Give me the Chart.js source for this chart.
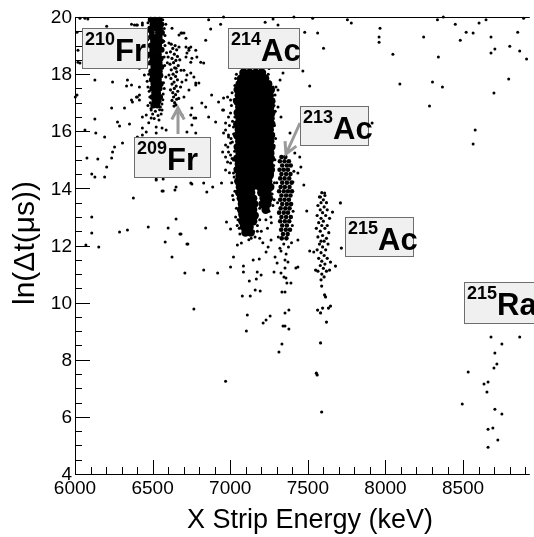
<!DOCTYPE html>
<html>
<head>
<meta charset="utf-8">
<script src="https://cdn.jsdelivr.net/npm/chart.js@4.4.1/dist/chart.umd.min.js"></script>
<style>
  html, body { margin: 0; padding: 0; background: #fff; }
  #plot { display: block; }
</style>
</head>
<body>
<canvas id="plot" width="534" height="537"></canvas>
<script>
// tick labels
var xTickLabels = [6000, 6500, 7000, 7500, 8000, 8500];
var yTickLabels = [4, 6, 8, 10, 12, 14, 16, 18, 20];

// scattered background events [energy keV, ln(dt)]
var bgPoints = [
  [6032,19.96],[6064,19.96],[6083,19.93],[6204,19.68],[6364,19.75],[6396,19.72],[6434,19.72],
  [6013,19.47],[6019,18.84],[6019,18.42],[6032,18.39],[6128,17.79],[6242,17.72],[6338,17.79],
  [6332,17.58],[6364,17.62],[6415,17.55],[6013,17.27],[6002,17.2],[6236,16.81],[6319,16.81],
  [6364,17.09],[6370,17.02],[6402,17.2],[6415,17.09],[6128,16.43],[6274,16.32],[6287,16.18],
  [6351,16.25],[6434,16.11],[6459,15.97],[6064,16.04],[6134,15.94],[6191,15.8],[6255,15.45],
  [6242,15.27],[6306,15.59],[6077,15.06],[6147,15.03],[6236,15.06],[6204,14.75],[6108,14.5],
  [6128,14.4],[6191,14.4],
  [6683,19.44],[6715,19.26],[6746,18.95],[6778,18.84],[6721,18.74],[6746,18.42],[6702,18.14],
  [6766,17.9],[6715,17.79],[6778,17.62],[6734,17.44],[6702,17.2],[6746,16.57],[6778,16.46],
  [6753,16.22],[6721,15.97],[6778,15.94],
  [6434,16.5],[6459,16.57],[6491,16.46],[6523,16.15],[6561,16.11],[6587,16.04],[6523,15.94],
  [6434,15.87],[6402,15.8],[6523,14.33],[6568,14.33],[6568,13.91],[6651,14.05],[6746,14.19],
  [6108,13.0],[6070,12.02],[6108,12.44],[6153,11.95],[6287,12.47],[6338,12.54],[6376,13.66],
  [6472,12.65],[6523,14.29],[6561,13.91],[6644,13.94],[6581,12.12],[6600,12.61],[6651,12.93],
  [6676,12.4],[6625,11.6],[6721,12.05],[6708,11.04],[6766,9.78],
  [6861,19.9],[6874,19.58],[6938,19.75],[6957,20.0],[7225,19.82],[7276,19.93],[7308,19.72],
  [7410,20.0],[7531,19.96],[7480,19.47],[7563,19.44],[7601,18.91],[7468,18.11],[7512,17.58],
  [7340,18.04],[7308,17.44],[6702,19.44],[6715,18.95],[6734,18.91],[6753,18.56],[6829,18.39],
  [6842,19.19],[6746,18.04],[6683,18.14],[6798,17.69],[6880,17.27],[6925,17.02],[6817,16.99],
  [6842,16.85],[6753,16.81],[6957,16.74],[7002,17.09],[6989,16.5],[6861,16.5],[6766,16.46],
  [6906,16.32],[6689,16.57],[6970,16.04],[6989,15.8],[7002,15.59],[6989,15.27],[6970,15.1],
  [7002,14.89],[6970,14.64],[7021,14.54],[6944,14.19],[6829,14.19],[6849,13.87],
  [7914,16.29],
  [7755,19.9],[7780,19.79],[7965,19.61],[7959,19.3],[7959,19.12],[8048,18.7],[8093,17.65],
  [8246,19.3],[8303,17.72],[8284,16.88],[8335,19.9],[8373,20.0],[8341,18.6],[8367,17.55],
  [8450,19.75],[8482,19.19],[8520,19.47],[8565,19.44],[8578,16.04],[8565,15.55],[8603,19.79],
  [8648,19.9],[8680,19.3],[8680,18.74],[8705,18.88],[8699,17.34],[8794,17.83],[8801,18.98],
  [8852,19.47],[8865,18.81],[8909,18.53],[8890,19.96],
  [6753,14.15],[6887,14.05],[6683,12.4],[6727,12.05],[6842,12.61],[6829,11.14],[6919,11.04],
  [6976,12.82],[7002,12.58],[7021,11.6],[7002,11.25],[6970,7.25]
];

// 210Fr band: dense core rows [ln(dt), energies...] and loose edge points
var fr210Rows = [
  [19.9, 6488, 6515, 6545], [19.75, 6500, 6530, 6556], [19.6, 6485, 6520, 6548],
  [19.45, 6495, 6535, 6560], [19.3, 6490, 6518, 6545], [19.15, 6503, 6530, 6555],
  [19.0, 6488, 6515, 6542], [18.85, 6498, 6528, 6558], [18.7, 6485, 6512, 6540],
  [18.55, 6500, 6525, 6552], [18.4, 6490, 6518, 6545], [18.25, 6505, 6532, 6556],
  [18.1, 6492, 6520, 6546], [17.95, 6500, 6528, 6550], [17.8, 6495, 6518, 6540],
  [17.65, 6505, 6530, 6552], [17.5, 6498, 6522, 6545], [17.35, 6510, 6535],
  [17.2, 6500, 6525, 6548], [17.05, 6512, 6538], [16.9, 6505, 6530]
];
var fr210Edge = [
  [6470,19.8],[6575,19.6],[6468,19.2],[6580,19.0],[6472,18.6],[6578,18.3],[6475,18.0],
  [6570,17.7],[6478,17.4],[6568,17.3],[6485,17.0],[6560,16.95],[6490,16.8],[6545,16.75],
  [6518,16.7],[6500,16.6],[6535,16.55],[6565,19.9],[6580,19.35],[6462,18.9],[6590,18.75],
  [6465,17.75],[6585,17.9],[6595,18.4],[6470,16.9],[6555,16.6],[6510,16.45],[6475,16.3],
  [6434,19.79],[6383,19.72],[6402,19.72],[6415,18.21],[6447,17.97],[6396,17.2],[6415,17.27],
  [6491,16.74],[6541,16.39],[6561,16.74],
  [6625,19.61],[6670,19.37],[6689,19.44],[6605,19.09],[6734,18.84],[6715,18.6],
  [6785,18.6],[6810,18.42],[6605,17.97],[6651,18.21],[6721,17.97],[6778,17.69],[6689,17.72],
  [6476,19.5],[6572,19.15],[6466,18.35],[6574,18.6],[6470,17.55],[6575,17.5],[6482,17.2],
  [6566,17.1],[6497,16.95],[6550,16.85],[6585,19.75],[6458,19.55]
];

// 209Fr band
var fr209Points = [
  [6620,19.05],[6645,19.0],[6630,18.9],[6655,18.85],[6615,18.78],[6640,18.7],[6660,18.62],
  [6625,18.55],[6650,18.48],[6635,18.4],[6612,18.35],[6665,18.3],[6642,18.22],[6620,18.15],
  [6655,18.08],[6632,18.0],[6648,17.92],[6618,17.85],[6660,17.8],[6638,17.72],[6625,17.65],
  [6652,17.58],[6640,17.5],[6615,17.45],[6662,17.4],[6630,17.35],[6648,17.28],[6635,17.2],
  [6655,17.12],[6625,17.08],[6642,17.0],[6650,16.92],[6638,16.88],[6670,18.95],[6675,18.5],
  [6600,18.6],[6680,17.55],[6668,17.15]
];

// 214Ac band: dense core rows [ln(dt), energies...]
var ac214Rows = [
  [18.05, 7085, 7125, 7165, 7205],
  [17.85, 7070, 7105, 7145, 7185, 7225],
  [17.65, 7060, 7095, 7130, 7170, 7210, 7245],
  [17.45, 7048, 7083, 7121, 7159, 7197, 7235, 7262],
  [17.25, 7055, 7095, 7135, 7175, 7215, 7255],
  [17.05, 7045, 7080, 7118, 7160, 7200, 7240, 7265],
  [16.85, 7058, 7098, 7138, 7178, 7218, 7258],
  [16.65, 7048, 7085, 7125, 7165, 7205, 7245, 7265],
  [16.45, 7060, 7100, 7140, 7180, 7220, 7260],
  [16.25, 7045, 7080, 7120, 7160, 7200, 7240, 7265],
  [16.05, 7055, 7095, 7135, 7175, 7215, 7255],
  [15.85, 7045, 7078, 7118, 7158, 7198, 7238, 7263],
  [15.65, 7058, 7098, 7138, 7178, 7218, 7258],
  [15.45, 7048, 7085, 7125, 7165, 7205, 7245, 7265],
  [15.25, 7060, 7100, 7140, 7180, 7220, 7258],
  [15.05, 7045, 7080, 7120, 7160, 7200, 7240, 7262],
  [14.85, 7055, 7095, 7135, 7175, 7215, 7252],
  [14.65, 7048, 7085, 7125, 7165, 7205, 7245, 7262],
  [14.45, 7060, 7100, 7140, 7180, 7220, 7255],
  [14.25, 7052, 7088, 7128, 7168, 7208, 7245],
  [14.05, 7062, 7102, 7142, 7190, 7230, 7258],
  [13.85, 7058, 7095, 7135, 7200, 7240],
  [13.65, 7068, 7108, 7148, 7215, 7250],
  [13.45, 7075, 7115, 7155, 7208, 7240],
  [13.25, 7070, 7108, 7148, 7228],
  [13.05, 7080, 7120, 7158],
  [12.85, 7078, 7115, 7148],
  [12.65, 7088, 7125],
  [12.45, 7098, 7132]
];
var ac214Edge = [
  [6957,17.16],[6983,17.2],[6951,16.74],[7002,16.64],[6970,16.29],[7021,16.15],[6957,15.94],
  [6989,15.87],[7014,15.62],[6970,15.52],[6951,15.27],[7002,15.17],[6983,14.92],[7021,14.99],
  [7078,18.07],[7097,18.14],[7193,18.14],[7212,18.04],[7053,17.79],[7257,17.72],[7276,17.55],
  [7289,17.27],[7030,17.6],[7282,16.9],[7285,16.2],[7282,15.5],[7280,14.8],[7025,14.4],
  [7030,13.9],[7040,13.3],[7050,12.9],[7175,12.7],[7190,12.9],[7262,13.0],[7275,13.4],
  [7100,18.3],[7150,18.35],[7130,18.5],[7115,18.8],[7225,18.4],
  [7025,17.1],[7030,16.5],[7022,15.9],[7028,15.3],[7032,14.7],[7020,13.6],[7278,17.1],
  [7276,16.55],[7280,15.9],[7275,15.2],[7273,14.5],[7270,13.8],[7040,18.0],[7245,18.0],
  [7165,18.25],[7060,13.1],[7190,13.3],[7250,13.2],[7170,13.05],[7062,12.4],[7150,12.5],
  [7012,17.35],[7008,16.9],[7015,16.35],[7005,15.75],[7012,15.05],[7010,14.2],[7015,13.75],
  [6995,16.2],[6985,15.45],[6995,14.55],[7035,17.85],[7060,18.25],[7210,18.3],[7250,18.2],
  [7290,16.7],[7292,15.75],[7288,15.0],[7285,14.2],[7283,13.6],[7035,13.0],[7045,12.7],
  [7175,12.5],[7190,12.25],[7265,12.8],[7230,12.9],[7135,12.25],[7180,18.6],[7085,18.5]
];

// 214Ac low-lifetime tail and points between bands
var ac214Tail = [
  [7321,17.79],[7295,17.55],[7308,16.85],[7327,16.5],[7385,15.94],[7416,15.24],[7448,15.1],
  [7455,14.75],[7404,14.22],[7436,14.54],[7608,13.84],[7582,13.7],
  [7046,12.02],[7072,12.09],[7085,11.28],[7085,11.07],[7123,10.76],[7168,10.83],[7148,11.49],
  [7187,11.53],[7174,11.07],[7199,10.97],[7078,10.23],[7129,10.23],[7161,10.44],[7193,10.41],
  [7110,9.57],[7104,9.01],[7212,9.29],[7231,9.39],[7257,9.53],[7244,11.95],[7263,12.19],
  [7231,11.77],[7160,12.3],[7200,12.5],[7120,12.2],[7240,12.6],[7058,12.6],[7210,12.1]
];

// 213Ac band
var ac213Rows = [
  [15.1, 7330, 7355], [14.95, 7320, 7350, 7378], [14.8, 7335, 7365, 7390],
  [14.65, 7318, 7345, 7372], [14.5, 7330, 7360, 7388], [14.35, 7322, 7350, 7380],
  [14.2, 7335, 7365, 7395], [14.05, 7325, 7352, 7382], [13.9, 7315, 7345, 7372, 7398],
  [13.75, 7330, 7360, 7388], [13.6, 7322, 7350, 7378], [13.45, 7335, 7365, 7392],
  [13.3, 7325, 7355, 7382], [13.15, 7315, 7345, 7372], [13.0, 7330, 7360, 7390],
  [12.85, 7322, 7352, 7380], [12.7, 7335, 7365], [12.55, 7328, 7358, 7385],
  [12.4, 7340, 7370], [12.25, 7332, 7362]
];
var ac213Tail = [
  [7289,11.6],[7282,11.07],[7302,11.39],[7327,11.81],[7327,11.04],[7353,11.49],[7353,11.21],
  [7372,11.42],[7346,10.9],[7359,10.86],[7365,10.69],[7391,10.69],[7353,10.37],[7333,10.37],
  [7378,9.74],[7353,9.64],[7340,9.18],[7353,9.18],[7378,9.08],[7333,8.55],[7314,8.27],
  [7423,11.21],[7436,11.25],[7474,14.12],[7493,13.21],[7512,11.81],[7538,11.77],[7436,12.19],
  [7345,12.05],[7375,11.95],[7320,11.9],[7360,11.7],[7395,12.1],[7310,12.3],[7405,13.2],
  [7410,14.6],[7300,14.2],[7305,13.5],[7400,12.7]
];

// 215Ac band
var ac215Points = [
  [7590,13.85],[7610,13.75],[7575,13.7],[7600,13.6],[7585,13.5],[7620,13.5],[7565,13.4],
  [7605,13.35],[7580,13.25],[7625,13.25],[7595,13.15],[7560,13.05],[7615,13.05],[7585,12.95],
  [7640,12.95],[7600,12.85],[7570,12.8],[7590,12.7],[7625,12.7],[7555,12.6],[7610,12.6],
  [7580,12.5],[7635,12.45],[7595,12.35],[7565,12.3],[7620,12.25],[7585,12.15],[7605,12.15],
  [7575,12.05],[7630,12.05],[7595,11.95],[7560,11.85],[7615,11.85],[7585,11.75],[7605,11.65],
  [7570,11.55],[7625,11.55],[7590,11.45],[7610,11.35],[7580,11.3],[7600,11.2],[7565,11.1],
  [7620,11.1],[7590,11.0],[7605,10.9],[7585,10.8],
  [7710,13.49],[7659,13.17],[7716,11.91],[7678,11.28],[7646,11.42],[7640,11.14],[7550,11.14],
  [7589,10.58],[7608,10.27],[7614,10.2],[7595,9.81],[7646,9.88],[7633,9.81],[7563,9.74],
  [7582,9.64],[7620,9.32],[7582,8.59],[7555,7.53],[7560,7.47],[7589,6.17]
];

// 215Ra events
var ra215Points = [
  [8680,8.8],[8750,8.55],[8865,8.8],[8705,8.24],[8718,7.85],[8699,7.71],[8533,7.57],
  [8661,7.22],[8635,7.15],[8654,6.87],[8495,6.45],[8705,6.27],[8750,6.1],[8661,5.57],
  [8692,5.61],[8724,5.19],[8661,4.94]
];

// isotope labels (pixel layout) and arrows
var isotopeBoxes = [
  { sup: '210', name: 'Fr', x: 82, y: 28, w: 65, h: 40 },
  { sup: '209', name: 'Fr', x: 134, y: 137, w: 76, h: 40 },
  { sup: '214', name: 'Ac', x: 228, y: 28, w: 71, h: 40 },
  { sup: '213', name: 'Ac', x: 300, y: 106, w: 68, h: 39 },
  { sup: '215', name: 'Ac', x: 345, y: 217, w: 68, h: 39 },
  { sup: '215', name: 'Ra', x: 464, y: 282, w: 80, h: 41 }
];
var arrows = [
  { x1: 178, y1: 134, x2: 178, y2: 108 },
  { x1: 300, y1: 123, x2: 286, y2: 154 }
];

function pairs(list) {
  return list.map(function(p) { return { x: p[0], y: p[1] }; });
}
function rows(list) {
  var out = [];
  list.forEach(function(r) {
    r.slice(1).forEach(function(e) { out.push({ x: e, y: r[0] }); });
  });
  return out;
}

function dots(data, radius) {
  return {
    data: data,
    pointRadius: radius,
    pointHoverRadius: radius,
    pointBackgroundColor: '#000',
    pointBorderWidth: 0,
    showLine: false,
    clip: false
  };
}

var rootAxes = {
  id: 'rootAxes',
  afterDatasetsDraw: function(chart) {
    var ctx = chart.ctx;
    var area = chart.chartArea;
    var xs = chart.scales.x;
    var ys = chart.scales.y;
    ctx.save();

    // arrows
    ctx.strokeStyle = '#9a9a9a';
    ctx.lineWidth = 3;
    ctx.lineCap = 'butt';
    arrows.forEach(function(a) {
      var ang = Math.atan2(a.y2 - a.y1, a.x2 - a.x1);
      ctx.beginPath();
      ctx.moveTo(a.x1, a.y1);
      ctx.lineTo(a.x2, a.y2);
      ctx.moveTo(a.x2 - 13 * Math.cos(ang - 0.5), a.y2 - 13 * Math.sin(ang - 0.5));
      ctx.lineTo(a.x2, a.y2);
      ctx.lineTo(a.x2 - 13 * Math.cos(ang + 0.5), a.y2 - 13 * Math.sin(ang + 0.5));
      ctx.stroke();
    });

    // label boxes
    isotopeBoxes.forEach(function(b) {
      ctx.fillStyle = '#f0f0f0';
      ctx.fillRect(b.x, b.y, b.w, b.h);
      ctx.strokeStyle = '#6e6e6e';
      ctx.lineWidth = 1;
      ctx.strokeRect(b.x + 0.5, b.y + 0.5, b.w, b.h);
      ctx.fillStyle = '#000';
      ctx.textAlign = 'left';
      ctx.textBaseline = 'alphabetic';
      ctx.font = 'bold 18px "Liberation Sans", Arial, sans-serif';
      ctx.fillText(b.sup, b.x + 3, b.y + 17);
      var sw = ctx.measureText(b.sup).width;
      ctx.font = 'bold 31px "Liberation Sans", Arial, sans-serif';
      ctx.fillText(b.name, b.x + 3 + sw, b.y + 33);
    });

    // frame
    ctx.strokeStyle = '#000';
    ctx.lineWidth = 1;
    ctx.beginPath();
    ctx.moveTo(area.left, area.top + 0.5);
    ctx.lineTo(area.right, area.top + 0.5);
    ctx.moveTo(area.left + 0.5, area.top);
    ctx.lineTo(area.left + 0.5, area.bottom + 0.5);
    ctx.lineTo(area.right, area.bottom + 0.5);
    ctx.stroke();

    // ticks pointing inwards
    ctx.beginPath();
    for (var e = 6000; e <= 8900; e += 100) {
      var px = Math.round(xs.getPixelForValue(e)) + 0.5;
      var len = (e % 500 === 0) ? 14 : 7;
      ctx.moveTo(px, area.bottom);
      ctx.lineTo(px, area.bottom - len);
    }
    for (var i = 0; i <= 32; i++) {
      var py = Math.round(ys.getPixelForValue(4 + i * 0.5)) + 0.5;
      var ylen = (i % 4 === 0) ? 15 : 7;
      ctx.moveTo(area.left, py);
      ctx.lineTo(area.left + ylen, py);
    }
    ctx.stroke();

    // tick labels
    ctx.fillStyle = '#000';
    ctx.font = '19px "Liberation Sans", Arial, sans-serif';
    ctx.textAlign = 'center';
    ctx.textBaseline = 'alphabetic';
    xTickLabels.forEach(function(v) {
      ctx.fillText(String(v), xs.getPixelForValue(v), 494);
    });
    ctx.textAlign = 'right';
    ctx.textBaseline = 'middle';
    yTickLabels.forEach(function(v) {
      ctx.fillText(String(v), 72, ys.getPixelForValue(v) + 1);
    });

    // axis titles
    ctx.font = '27px "Liberation Sans", Arial, sans-serif';
    ctx.textAlign = 'center';
    ctx.textBaseline = 'alphabetic';
    ctx.fillText('X Strip Energy (keV)', 310, 528);

    ctx.save();
    ctx.translate(26, 243);
    ctx.rotate(-Math.PI / 2);
    ctx.font = '30px "Liberation Sans", Arial, sans-serif';
    ctx.textBaseline = 'middle';
    ctx.fillText('ln(\u0394t(\u03bcs))', 0, 0);
    ctx.restore();

    ctx.restore();
  }
};

var chart = new Chart(document.getElementById('plot').getContext('2d'), {
  type: 'scatter',
  data: {
    datasets: [
      dots(pairs(bgPoints), 1.5),
      dots(rows(fr210Rows), 3.0),
      dots(pairs(fr210Edge), 1.5),
      dots(pairs(fr209Points), 1.6),
      dots(rows(ac214Rows), 4.2),
      dots(pairs(ac214Edge), 1.5),
      dots(pairs(ac214Tail), 1.5),
      dots(rows(ac213Rows), 2.3),
      dots(pairs(ac213Tail), 1.5),
      dots(pairs(ac215Points), 1.6),
      dots(pairs(ra215Points), 1.5)
    ]
  },
  options: {
    responsive: false,
    animation: false,
    devicePixelRatio: 1,
    layout: { padding: { left: 75, top: 17, right: 0, bottom: 63 } },
    scales: {
      x: { type: 'linear', min: 6000, max: 8930, display: false },
      y: { type: 'linear', min: 4, max: 20, display: false }
    },
    plugins: {
      legend: { display: false },
      tooltip: { enabled: false }
    }
  },
  plugins: [rootAxes]
});
</script>
</body>
</html>
